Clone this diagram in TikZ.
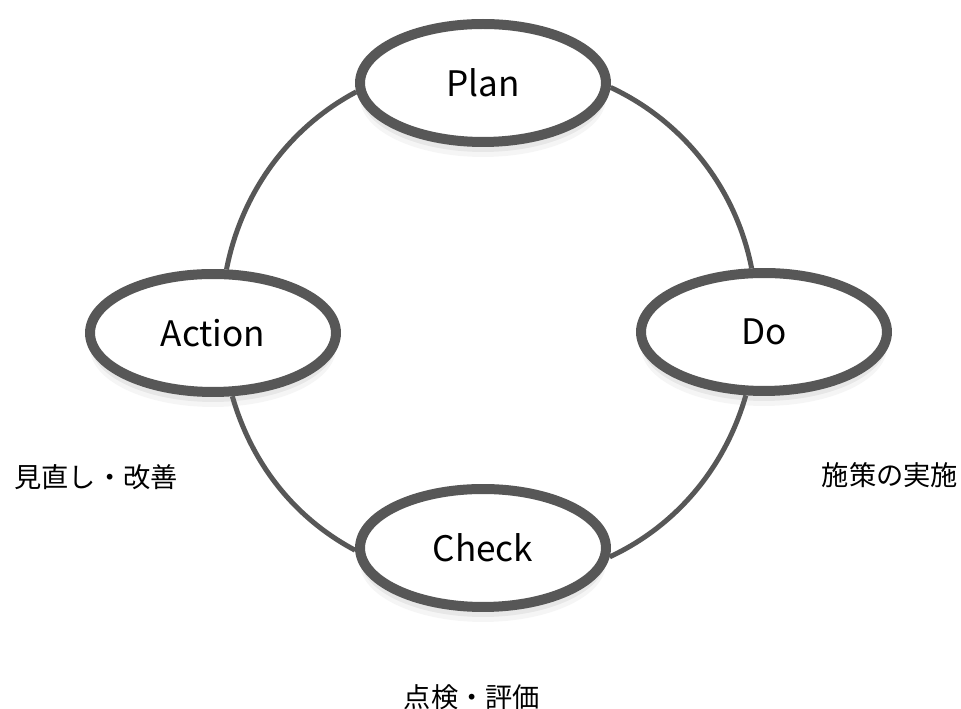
\documentclass[tikz,border=0pt]{standalone}
\usepackage{fontspec}
\setmainfont{Noto Sans CJK JP}
\usetikzlibrary{shapes.geometric,shadows,backgrounds}
\definecolor{rim}{HTML}{575757}

\begin{document}
\begin{tikzpicture}[x=0.02cm, y=0.02cm, node distance=2.9cm]
    \tikzstyle{phase} = [ellipse, draw=rim, line width=0.2cm, fill=white, minimum width=4.92cm, minimum height=2.36cm, inner sep=0pt, font=\fontsize{20}{24}\selectfont, drop shadow={shadow xshift=0cm, shadow yshift=-0.2cm, opacity=0.12}, drop shadow={shadow xshift=0cm, shadow yshift=-0.3cm, opacity=0.08}]
    \tikzstyle{note} = [inner sep=0pt, font=\fontsize{15.5}{18}\selectfont]
    \tikzstyle{ring} = [draw=rim, line width=0.1cm, looseness=0.9]

    \useasboundingbox (0,0) rectangle (961,709);

    \node[phase] (plan) at (483,626) {Plan};
    \node[phase] (do) at (764,377) {Do};
    \node[phase] (check) at (483,161) {Check};
    \node[phase] (action) at (213,376) {Action};

    \node[note, below of=action, node distance=2.88cm, xshift=-2.34cm] (actnote) {見直し・改善};
    \node[note, below of=do, node distance=2.86cm, xshift=2.52cm] (donote) {施策の実施};
    \node[note, below of=check, node distance=2.98cm, xshift=-0.22cm] (checknote) {点検・評価};

    % the cycle, behind the phases
    \begin{pgfonlayer}{background}
    \draw[ring] (plan.358) to[out=-25, in=101] (do.101);
    \draw[ring] (do.254) to[out=-106, in=25] (check.356);
    \draw[ring] (check.181) to[out=152, in=-74] (action.287);
    \draw[ring] (action.78) to[out=79, in=208] (plan.184);
    \end{pgfonlayer}
\end{tikzpicture}
\end{document}
